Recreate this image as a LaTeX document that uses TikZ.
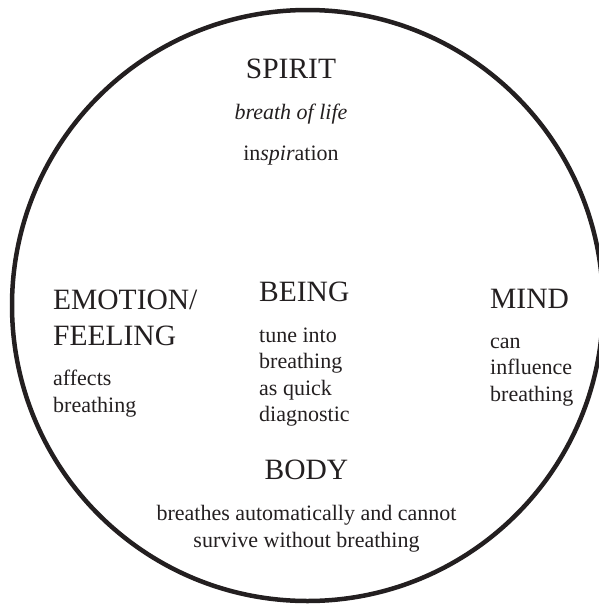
\documentclass[tikz,border=0pt]{standalone}
\usepackage{fontspec}
\setmainfont{Liberation Serif}
\usetikzlibrary{positioning}
\definecolor{ink}{HTML}{231F20}

\begin{document}
\begin{tikzpicture}[
      x=1pt, y=1pt,
      head/.style={inner sep=0pt, text=ink, align=left,
                   font=\fontsize{29.5}{36}\selectfont},
      note/.style={inner sep=0pt, text=ink, align=left,
                   font=\fontsize{22}{26.5}\selectfont},
      ring/.style={draw=ink, line width=4.5pt}
    ]
    \useasboundingbox (0,0) rectangle (598,-605);
    \draw[ring] (307.5,-305.5) circle[radius=295.5pt];

    % the four parts round the centre
    \node[head, anchor=base]      (spirit)  at (291,-78)    {SPIRIT};
    \node[head, anchor=base west] (emotion) at (53,-345)    {EMOTION/\\FEELING};
    \node[head, anchor=base west] (being)   at (259,-301.5) {BEING};
    \node[head, anchor=base west] (mind)    at (490,-308.3) {MIND};
    \node[head, anchor=base]      (body)    at (306.5,-479) {BODY};

    % what each part does with breathing
    \node[note, below=41pt of spirit.base, anchor=base] (life) {\itshape breath of life};
    \node[note, below=41pt of life.base, anchor=base] (inspire) {in\textit{spir}ation};
    \node[note, below=67pt of emotion.base west, anchor=base west] (feelnote) {affects\\breathing};
    \node[note, below=120pt of being.base west, anchor=base west] (beingnote) {tune into\\breathing\\as quick\\diagnostic};
    \node[note, below=93pt of mind.base west, anchor=base west] (mindnote) {can\\influence\\breathing};
    \node[note, below=68pt of body.base, anchor=base, align=center] (bodynote) {breathes automatically and cannot\\survive without breathing};
\end{tikzpicture}
\end{document}
